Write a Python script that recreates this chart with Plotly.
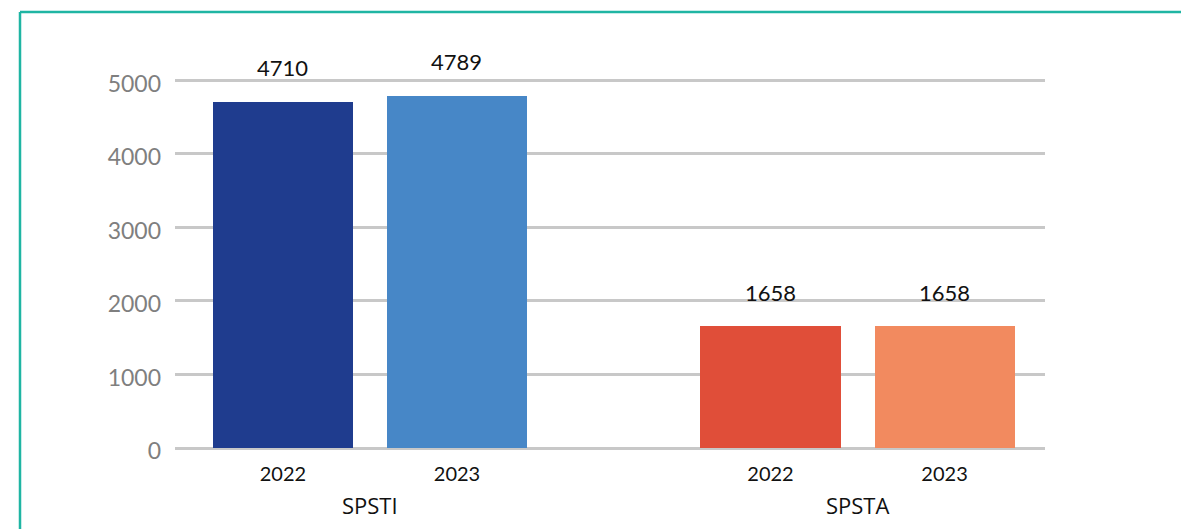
import plotly.graph_objects as go

groups = ["SPSTI", "SPSTA"]
years = ["2022", "2023"]
values = {"SPSTI": [4710, 4789], "SPSTA": [1658, 1658]}
colors = {"SPSTI": ["#1f3c8e", "#4787c7"], "SPSTA": ["#e04e39", "#f28a5f"]}
y_ticks = [0, 1000, 2000, 3000, 4000, 5000]

BAR_W = 0.805
GROUP_STEP = len(years) + 0.801

# page has an 8px body margin; margins compensate so the plot sits where the reference has it
ML, MR, MT, MB = 167, 152, 71, 89
PW = 1189 - ML - MR
PH = 529 - MT - MB

fig = go.Figure()
xs_all, txt_all = [], []
for gi, g in enumerate(groups):
    xs = [gi * GROUP_STEP + j for j in range(len(years))]
    fig.add_trace(go.Bar(
        x=xs, y=values[g], width=BAR_W,
        marker=dict(color=colors[g], line=dict(width=0)),
        showlegend=False, hoverinfo="skip",
    ))
    for x, v in zip(xs, values[g]):
        fig.add_annotation(x=x, y=v, xref="x", yref="y", text=str(v),
                           showarrow=False, yanchor="middle", yshift=34,
                           font=dict(family="Lato", size=22, color="#111111"))
    xs_all += xs
    txt_all += years
    fig.add_annotation(x=sum(xs) / len(xs), y=-(505 - 448) / PH, xref="x", yref="paper",
                       text=g, showarrow=False, yanchor="middle",
                       font=dict(family="Open Sans", size=22, color="#111111"))

# teal frame (top and left edges)
fy = (529 - MB - 4) / PH
fx = (12 - ML) / PW
fig.add_shape(type="line", xref="paper", yref="paper",
              x0=fx, x1=1.3, y0=fy, y1=fy,
              line=dict(color="#1fb5a3", width=2.5))
fig.add_shape(type="line", xref="paper", yref="paper",
              x0=fx, x1=fx, y0=fy, y1=-0.5,
              line=dict(color="#1fb5a3", width=2.5))

fig.update_layout(
    width=1189, height=529,
    margin=dict(l=ML, r=MR, t=MT, b=MB),
    paper_bgcolor="white", plot_bgcolor="white",
    bargap=0,
)
fig.update_xaxes(
    range=[-0.62, 4.378], tickvals=xs_all, ticktext=txt_all,
    showgrid=False, zeroline=False, showline=False,
    ticks="outside", ticklen=8, tickcolor="rgba(0,0,0,0)",
    tickfont=dict(family="Lato", size=20, color="#111111"),
)
fig.update_yaxes(
    range=[0, 5020], tickvals=y_ticks,
    showgrid=True, gridcolor="#c8c8c8", gridwidth=2.5,
    zeroline=True, zerolinecolor="#c8c8c8", zerolinewidth=3,
    showline=False, ticks="", ticklabelstandoff=13, ticklabelshift=3,
    tickfont=dict(family="Lato", size=23, color="#7f7f7f"),
)

fig.write_html("out.html")
